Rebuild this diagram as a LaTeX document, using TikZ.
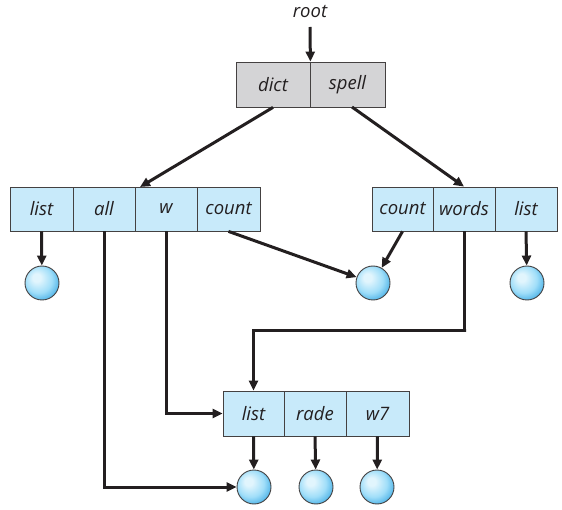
\documentclass[tikz,border=0pt]{standalone}
\usepackage{fontspec}
\setmainfont{Open Sans}
\usetikzlibrary{arrows.meta,calc}
\definecolor{cellblue}{RGB}{200,234,250}
\definecolor{cellgrey}{RGB}{212,212,214}
\definecolor{ink}{RGB}{35,31,32}
\definecolor{ballhi}{RGB}{225,245,253}
\definecolor{ballmid}{RGB}{160,222,249}
\definecolor{balledge}{RGB}{80,180,232}
\pgfdeclareradialshading{lightball}{\pgfqpoint{-9bp}{9bp}}{%
  color(0bp)=(ballhi); color(6bp)=(ballhi); color(20bp)=(ballmid);
  color(30bp)=(balledge); color(50bp)=(balledge)}
\begin{document}
\begin{tikzpicture}[x=1pt,y=-1pt,
  cell/.style={draw=ink!85,line width=0.8pt,fill=cellblue,inner sep=0pt,minimum height=44pt,
    font=\fontsize{18.5}{22}\selectfont\itshape,text=ink,anchor=center},
  gcell/.style={cell,fill=cellgrey},
  ball/.style={circle,draw=ink!85,line width=0.9pt,shading=lightball,minimum size=34pt,inner sep=0pt},
  arr/.style={draw=ink,line width=3pt,-{Triangle[length=10pt,width=9pt]}},
  lab/.style={font=\fontsize{18.5}{22}\selectfont\itshape,text=ink}]
\useasboundingbox (0,0) rectangle (562,510);
% root
\node[lab] (root) at (310,12) {root};
% top box
\node[gcell,minimum width=74pt,minimum height=45pt] (dict) at (273,84.5) {dict};
\node[gcell,minimum width=75pt,minimum height=45pt] (spell) at (347.5,84.5) {spell};
% left box
\node[cell,minimum width=63pt] (llist) at (41.5,209) {list};
\node[cell,minimum width=62pt] (lall) at (104,209) {all};
\node[cell,minimum width=62pt] (lw) at (166,209) {w};
\node[cell,minimum width=63pt] (lcount) at (228.5,209) {count};
% right box
\node[cell,minimum width=61pt] (rcount) at (402.5,209) {count};
\node[cell,minimum width=62pt] (rwords) at (464,209) {words};
\node[cell,minimum width=62pt] (rlist) at (526,209) {list};
% bottom box
\node[cell,minimum width=61pt,minimum height=45pt] (blist) at (253.5,413.5) {list};
\node[cell,minimum width=62pt,minimum height=45pt] (brade) at (315,413.5) {rade};
\node[cell,minimum width=63pt,minimum height=45pt] (bw) at (377.5,413.5) {w7};
% balls
\node[ball] (c1) at (42,283) {};
\node[ball] (c2) at (373,283) {};
\node[ball] (c3) at (527,283) {};
\node[ball] (c4) at (254,487) {};
\node[ball] (c5) at (316,487) {};
\node[ball] (c6) at (377,487) {};
% connectors
\coordinate (rootend) at (310,27);
\draw[arr] (rootend) -- (dict.north east);
\coordinate (ltop) at (140,187);
\coordinate (sstart) at (352,107);
\draw[arr] (dict.south) -- (ltop);
\draw[arr] (sstart) -- (rwords.north);
\draw[arr] (llist.south) -- (c1);
\draw[arr] (lall.south) |- (c4.west);
\draw[arr] (lw.south) |- (blist.west);
\draw[arr] (lcount.south) -- (c2);
\draw[arr] (rcount.south) -- (c2);
\draw[arr] (rlist.south) -- (c3);
\coordinate (wbend) at (466,331);
\draw[arr] (rwords.south) |- (wbend) -| (blist.north);
\draw[arr] (blist.south) -- (c4);
\draw[arr] (brade.south) -- (c5);
\draw[arr] (bw.south) -- (c6);
\end{tikzpicture}
\end{document}
